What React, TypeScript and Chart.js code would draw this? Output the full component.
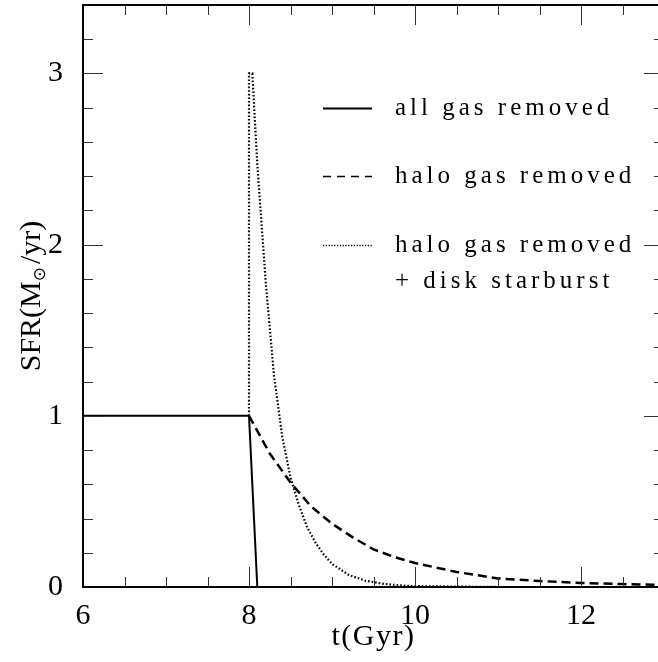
import React, { useEffect, useRef } from "react";
import { Chart, registerables } from "chart.js";
Chart.register(...registerables);

const timeAllRemoved = [6, 8, 8.1, 13];
const sfrAllRemoved = [1, 1, 0, 0];

const timeHaloRemoved = [8, 8.25, 8.5, 8.75, 9, 9.25, 9.5, 9.75, 10, 10.5, 11, 11.5, 12, 12.5, 13];
const sfrHaloRemoved = [1, 0.78, 0.61, 0.47, 0.37, 0.29, 0.22, 0.175, 0.14, 0.088, 0.05, 0.035, 0.024, 0.017, 0.012];

const timeStarburst = [8, 8, 8.04, 8.1, 8.2, 8.3, 8.4, 8.5, 8.6, 8.7, 8.8, 8.9, 9, 9.2, 9.4, 9.6, 9.8, 10, 11, 13];
const sfrStarburst = [1, 3.0, 3.0, 2.47, 1.79, 1.24, 0.88, 0.64, 0.48, 0.35, 0.26, 0.19, 0.135, 0.071, 0.037, 0.02, 0.01, 0.005, 0, 0];

const xMajorTicks = [6, 8, 10, 12];
const yMajorTicks = [0, 1, 2, 3];

const legendLabels = ["all gas removed", "halo gas removed", "halo gas removed", "+ disk starburst"];
const xTitle = "t(Gyr)";

const X_MIN = 6, X_MAX = 13, Y_MIN = 0, Y_MAX = 3.4;

const pts = (xs: number[], ys: number[]) => xs.map((x, i) => ({ x, y: ys[i] }));

const DASH = [9, 5];
const DOT = [1.6, 2.0];

const framePlugin = {
  id: "frame",
  afterDraw(chart: any) {
    const ctx = chart.ctx;
    const { left, right, top, bottom } = chart.chartArea;
    const xs = chart.scales.x;
    const ys = chart.scales.y;
    ctx.save();
    // ticks
    ctx.strokeStyle = "#333";
    ctx.lineWidth = 1;
    ctx.beginPath();
    for (let v = X_MIN; v <= X_MAX + 1e-9; v += 0.5) {
      const px = Math.round(xs.getPixelForValue(v)) + 0.5;
      const major = Math.abs(v / 2 - Math.round(v / 2)) < 1e-6;
      const len = major ? 20 : 10;
      ctx.moveTo(px, bottom); ctx.lineTo(px, bottom - len);
      ctx.moveTo(px, top); ctx.lineTo(px, top + len);
    }
    for (let v = Y_MIN; v <= Y_MAX + 1e-9; v += 0.2) {
      const py = Math.round(ys.getPixelForValue(v)) + 0.5;
      const major = Math.abs(v - Math.round(v)) < 1e-6;
      const len = major ? 20 : 10;
      ctx.moveTo(left, py); ctx.lineTo(left + len, py);
      ctx.moveTo(right, py); ctx.lineTo(right - len, py);
    }
    ctx.stroke();
    // frame
    ctx.strokeStyle = "#000";
    ctx.lineWidth = 2;
    ctx.strokeRect(left, top, right - left, bottom - top);

    // legend
    const lx0 = 323, lx1 = 372, tx = 395;
    const rows = [108, 176, 245];
    const styles: [number[], number][] = [[[], 2], [[8, 6], 1.4], [[1.2, 1.6], 1.6]];
    rows.forEach((y, i) => {
      ctx.beginPath();
      ctx.setLineDash(styles[i][0]);
      ctx.lineWidth = styles[i][1];
      ctx.moveTo(lx0, y + 0.5); ctx.lineTo(lx1, y + 0.5);
      ctx.stroke();
    });
    ctx.setLineDash([]);
    ctx.fillStyle = "#000";
    ctx.font = "25px 'Liberation Serif'";
    (ctx as any).letterSpacing = "4px";
    ctx.textAlign = "left";
    ctx.textBaseline = "alphabetic";
    const baselines = [115, 183, 252, 288];
    legendLabels.forEach((t, i) => ctx.fillText(t, tx, baselines[i]));

    // x title
    (ctx as any).letterSpacing = "1.5px";
    ctx.font = "30px 'Liberation Serif'";
    ctx.textAlign = "center";
    ctx.fillText(xTitle, (left + right) / 2, 645);

    // y title with subscript
    ctx.translate(40, (top + bottom) / 2);
    ctx.rotate(-Math.PI / 2);
    (ctx as any).letterSpacing = "0px";
    const big = "30px 'Liberation Serif'";
    const small = "17px 'DejaVu Sans'";
    const parts: [string, string, number][] = [["SFR(M", big, 0], ["\u2299", small, 5], ["/yr)", big, 0]];
    let total = 0;
    parts.forEach(([t, f]) => { ctx.font = f; total += ctx.measureText(t).width; });
    total += 3;
    let cx = -total / 2;
    ctx.textAlign = "left";
    parts.forEach(([t, f, dy], i) => {
      ctx.font = f;
      ctx.fillText(t, cx, dy);
      cx += ctx.measureText(t).width + (i === 1 ? 3 : 0);
    });
    ctx.restore();
  },
};

export default function App() {
  const ref = useRef<HTMLCanvasElement>(null);
  useEffect(() => {
    if (!ref.current) return;
    const tickFont = { family: "'Liberation Serif'", size: 30 };
    const chart = new Chart(ref.current, {
      type: "scatter",
      data: {
        datasets: [
          { label: legendLabels[0], data: pts(timeAllRemoved, sfrAllRemoved), showLine: true, borderColor: "#000", borderWidth: 2, pointRadius: 0, tension: 0 },
          { label: legendLabels[1], data: pts(timeHaloRemoved, sfrHaloRemoved), showLine: true, borderColor: "#000", borderWidth: 2.5, borderDash: DASH, pointRadius: 0, tension: 0 },
          { label: legendLabels[2], data: pts(timeStarburst, sfrStarburst), showLine: true, borderColor: "#000", borderWidth: 2.2, borderDash: DOT, pointRadius: 0, tension: 0 },
        ],
      } as any,
      options: {
        animation: false,
        responsive: false,
        devicePixelRatio: 1,
        layout: { padding: { left: 0, top: 5, right: 2, bottom: 0 } },
        plugins: { legend: { display: false }, tooltip: { enabled: false } },
        scales: {
          x: {
            type: "linear",
            min: X_MIN, max: X_MAX,
            grid: { display: false, drawTicks: false },
            border: { display: false },
            afterBuildTicks: (s: any) => { s.ticks = xMajorTicks.map((v) => ({ value: v })); },
            afterFit: (s: any) => { s.height = 75; s.paddingLeft = 0; s.paddingRight = 0; },
            ticks: { font: tickFont, color: "#000", padding: 11, maxRotation: 0, includeBounds: false },
          },
          y: {
            type: "linear",
            min: Y_MIN, max: Y_MAX,
            grid: { display: false, drawTicks: false },
            border: { display: false },
            afterBuildTicks: (s: any) => { s.ticks = yMajorTicks.map((v) => ({ value: v })); },
            afterFit: (s: any) => { s.width = 83; s.paddingTop = 0; s.paddingBottom = 0; },
            ticks: { font: tickFont, color: "#000", padding: 20, includeBounds: false },
          },
        },
      } as any,
      plugins: [framePlugin],
    });
    return () => chart.destroy();
  }, []);
  return (
    <div style={{ position: "fixed", left: 0, top: 0, width: 658, height: 662, overflow: "hidden", background: "#fff" }}>
      <canvas ref={ref} width={666} height={662} style={{ width: 666, height: 662, display: "block" }} />
    </div>
  );
}
